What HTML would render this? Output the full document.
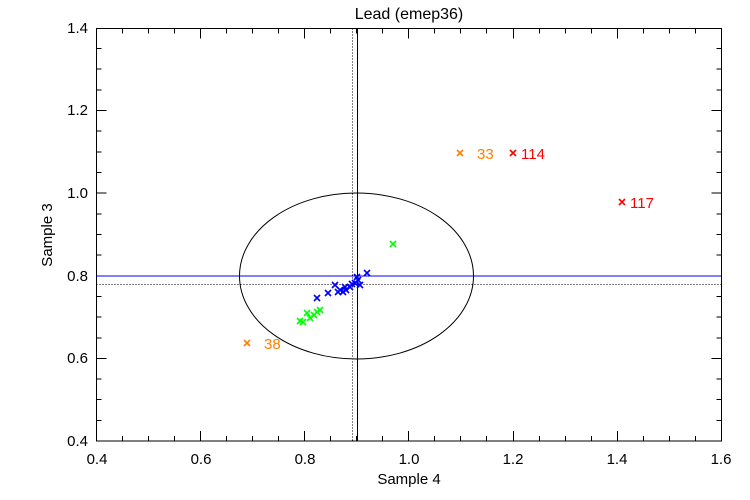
<!DOCTYPE html>
<html><head><style>body{margin:0;background:#fff}svg{display:block}text{font-family:"Liberation Sans",sans-serif;}</style></head>
<body>
<svg width="750" height="500" viewBox="0 0 750 500" xmlns="http://www.w3.org/2000/svg">
<defs>
<g id="x"><path d="M-3,-3L3,3M-3,3L3,-3" stroke-width="1.6"/></g>
</defs>
<rect width="750" height="500" fill="#fff"/>
<text x="409" y="19" font-size="16" text-anchor="middle">Lead (emep36)</text>
<g stroke="#000" fill="none" stroke-width="1">
<rect x="96.5" y="28.5" width="625" height="412.5"/>
<path d="
M96.5,441v-10M122.5,441v-5M148.5,441v-5M174.5,441v-5M200.5,441v-10M226.5,441v-5M252.5,441v-5M278.5,441v-5M304.5,441v-10M330.5,441v-5M356.5,441v-5M382.5,441v-5M408.5,441v-10M434.5,441v-5M460.5,441v-5M486.5,441v-5M513.5,441v-10M539.5,441v-5M565.5,441v-5M591.5,441v-5M617.5,441v-10M643.5,441v-5M669.5,441v-5M695.5,441v-5
M96.5,28.5v10M122.5,28.5v5M148.5,28.5v5M174.5,28.5v5M200.5,28.5v10M226.5,28.5v5M252.5,28.5v5M278.5,28.5v5M304.5,28.5v10M330.5,28.5v5M356.5,28.5v5M382.5,28.5v5M408.5,28.5v10M434.5,28.5v5M460.5,28.5v5M486.5,28.5v5M513.5,28.5v10M539.5,28.5v5M565.5,28.5v5M591.5,28.5v5M617.5,28.5v10M643.5,28.5v5M669.5,28.5v5M695.5,28.5v5
M96.5,441h10M96.5,420.5h5M96.5,399.5h5M96.5,379h5M96.5,358.5h10M96.5,338h5M96.5,317h5M96.5,296.5h5M96.5,276h10M96.5,255h5M96.5,234.5h5M96.5,214h5M96.5,193h10M96.5,172.5h5M96.5,152h5M96.5,131h5M96.5,110.5h10M96.5,90h5M96.5,69h5M96.5,48.5h5M96.5,28.5h10
M721.5,441h-10M721.5,420.5h-5M721.5,399.5h-5M721.5,379h-5M721.5,358.5h-10M721.5,338h-5M721.5,317h-5M721.5,296.5h-5M721.5,276h-10M721.5,255h-5M721.5,234.5h-5M721.5,214h-5M721.5,193h-10M721.5,172.5h-5M721.5,152h-5M721.5,131h-5M721.5,110.5h-10M721.5,90h-5M721.5,69h-5M721.5,48.5h-5M721.5,28.5h-10"/>
<ellipse cx="356.5" cy="276" rx="117" ry="83"/>
<path d="M357.5,28.5V441"/>
<path d="M352.5,28.5V441M96.5,284.5H721.5" stroke-dasharray="1,2"/>
</g>
<path d="M96.5,276H721.5" stroke="#0000ff" stroke-width="1"/>
<g font-size="15" text-anchor="end">
<text x="88" y="446">0.4</text><text x="88" y="363">0.6</text><text x="88" y="281">0.8</text><text x="88" y="198">1.0</text><text x="88" y="115">1.2</text><text x="88" y="33">1.4</text>
</g>
<g font-size="15" text-anchor="middle">
<text x="97" y="464">0.4</text><text x="201" y="464">0.6</text><text x="305" y="464">0.8</text><text x="409" y="464">1.0</text><text x="513" y="464">1.2</text><text x="617" y="464">1.4</text><text x="721" y="464">1.6</text>
<text x="409" y="484">Sample 4</text>
</g>
<text transform="translate(52,235) rotate(-90)" font-size="15" text-anchor="middle">Sample 3</text>
<g stroke="#00ff00">
<use href="#x" x="393" y="244"/><use href="#x" x="300" y="321"/><use href="#x" x="303" y="322"/><use href="#x" x="307" y="313"/><use href="#x" x="310" y="318"/><use href="#x" x="314" y="315"/><use href="#x" x="317" y="312"/><use href="#x" x="320" y="310"/>
</g>
<g stroke="#0000ff">
<use href="#x" x="367" y="273"/><use href="#x" x="357" y="277"/><use href="#x" x="360" y="285"/><use href="#x" x="355" y="283"/><use href="#x" x="350" y="287"/><use href="#x" x="346" y="290"/><use href="#x" x="343" y="292"/><use href="#x" x="340" y="290"/><use href="#x" x="335" y="285"/><use href="#x" x="328" y="293"/><use href="#x" x="317" y="298"/><use href="#x" x="345" y="287"/><use href="#x" x="352" y="284"/><use href="#x" x="358" y="280"/><use href="#x" x="338" y="292"/>
</g>
<g stroke="#ff8000"><use href="#x" x="460" y="153"/><use href="#x" x="247" y="343"/></g>
<g stroke="#ff0000"><use href="#x" x="513" y="153"/><use href="#x" x="622" y="202"/></g>
<g font-size="15">
<text x="477" y="159" fill="#ff8000">33</text><text x="264" y="349" fill="#ff8000">38</text>
<text x="521" y="159" fill="#ff0000">114</text><text x="630" y="208" fill="#ff0000">117</text>
</g>
</svg>
</body></html>
